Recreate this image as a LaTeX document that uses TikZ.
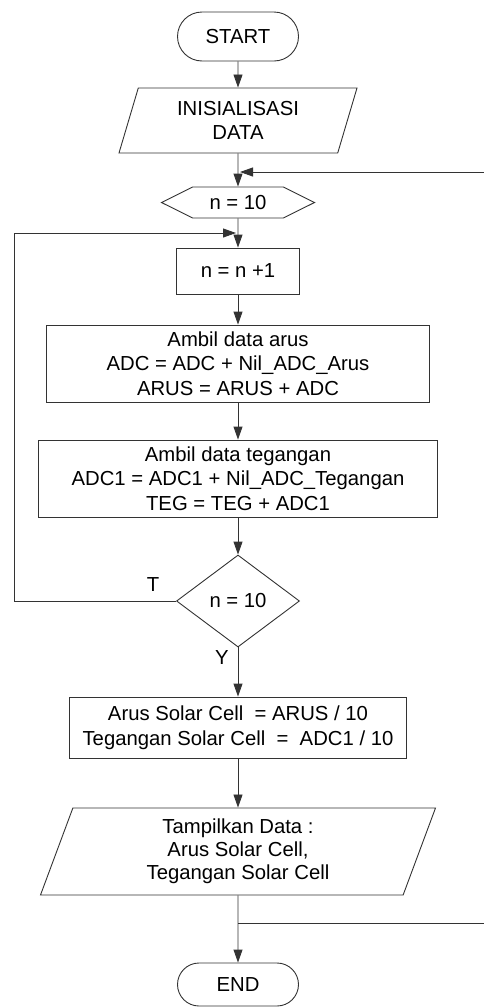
\documentclass[tikz,border=0pt]{standalone}
\usepackage{fontspec}
\setmainfont{Liberation Sans}
\usetikzlibrary{shapes.geometric, shapes.symbols, shapes.misc, arrows.meta, positioning}
\tikzset{every node/.style={font=\fontsize{20.3}{24.5}\selectfont, align=center, inner sep=0pt},
         flowline/.style={draw=black!80, line width=0.9pt},
         flowarrow/.style={flowline, ->},
         terminal/.style={flowline, rounded rectangle, minimum width=121pt, minimum height=49pt},
         io/.style={flowline, trapezium, trapezium left angle=63.5, trapezium right angle=116.5, trapezium stretches body},
         prep/.style={flowline, signal, signal to=west and east, signal pointer angle=53, minimum width=153pt, minimum height=31pt},
         process/.style={flowline, rectangle},
         decision/.style={flowline, diamond, aspect=1.34, minimum width=123pt, minimum height=92pt},
         >={Triangle[length=13pt,width=9pt]}
        }

\begin{document}
\begin{tikzpicture}[x=1pt,y=-1pt]
        \useasboundingbox(0,0)rectangle(484,1007);

        \node[terminal](start)at(238,36.5){START};
        \node[io, minimum width=238pt, minimum height=65pt](init)at(238,120.5){INISIALISASI\\DATA};
        \node[prep](count)at(238,202.5){n = 10};
        \node[process, minimum width=123pt, minimum height=46pt](inc)at(238,271){n = n +1};
        \node[process, minimum width=383pt, minimum height=77pt](arus)at(238,363.5){Ambil data arus\\ADC = ADC + Nil\_ADC\_Arus\\ARUS = ARUS + ADC};
        \node[process, minimum width=399pt, minimum height=77pt](teg)at(238,478.5){Ambil data tegangan\\ADC1 = ADC1 + Nil\_ADC\_Tegangan\\TEG = TEG + ADC1};
        \node[decision](check)at(238,601){n = 10};
        \node[process, minimum width=337pt, minimum height=61pt](avg)at(238,727.5){Arus Solar Cell \ = ARUS / 10\\Tegangan Solar Cell \ = \ ADC1 / 10};
        \node[io, minimum width=395pt, minimum height=87pt, font=\fontsize{20.3}{23}\selectfont](show)at(238,851.5){Tampilkan Data :\\Arus Solar Cell,\\Tegangan Solar Cell};
        \node[terminal, minimum height=43pt](end)at(238,984.5){END};

        \node(tlab)at(153,585){T};
        \node(ylab)at(222,658){Y};

        \coordinate(rin)at(484,172);
        \coordinate(mrg)at(240,172);
        \coordinate(lp1)at(14,601);
        \coordinate(lp2)at(14,233);
        \coordinate(lp3)at(236,233);
        \coordinate(brk)at(238,923);
        \coordinate(rout)at(484,923);

        \draw[flowarrow](start)--(init);
        \draw[flowarrow](init)--(count);
        \draw[flowarrow](rin)--(mrg);
        \draw[flowarrow](count)--(inc);
        \draw[flowarrow](inc)--(arus);
        \draw[flowarrow](arus)--(teg);
        \draw[flowarrow](teg)--(check);
        \draw[flowarrow](check.west)--(lp1)--(lp2)--(lp3);
        \draw[flowarrow](check)--(avg);
        \draw[flowarrow](avg)--(show);
        \draw[flowarrow](show)--(end);
        \draw[flowline](brk)--(rout);
    \end{tikzpicture}
\end{document}
